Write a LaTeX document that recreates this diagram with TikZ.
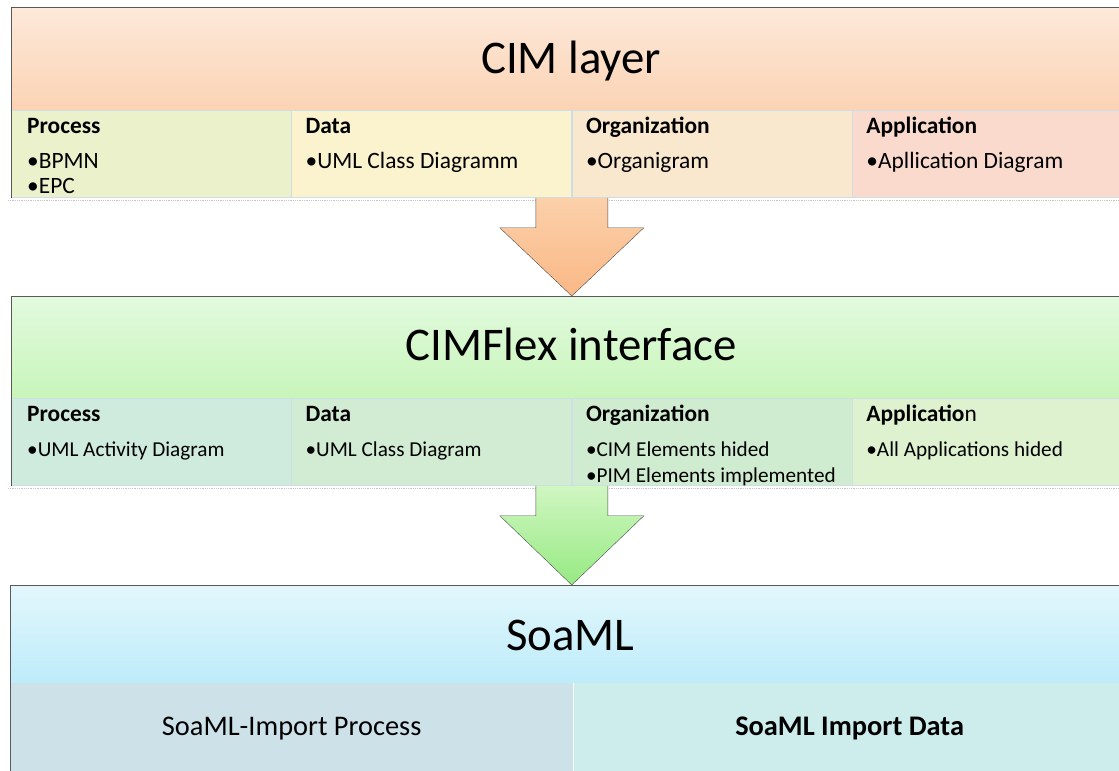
\documentclass[tikz,border=0pt]{standalone}
\usepackage{fontspec}
\setmainfont{Carlito}
\usepackage{tikz}
\usetikzlibrary{positioning, calc}

\definecolor{cimtop}{RGB}{253,233,218}
\definecolor{cimbot}{RGB}{251,211,180}
\definecolor{cimproc}{RGB}{235,241,202}
\definecolor{cimdata}{RGB}{250,243,206}
\definecolor{cimorg}{RGB}{249,232,206}
\definecolor{cimapp}{RGB}{249,218,205}
\definecolor{flextop}{RGB}{226,250,222}
\definecolor{flexbot}{RGB}{200,245,186}
\definecolor{flexproc}{RGB}{206,235,222}
\definecolor{flexdata}{RGB}{210,236,212}
\definecolor{flexorg}{RGB}{208,236,208}
\definecolor{flexapp}{RGB}{222,242,208}
\definecolor{soatop}{RGB}{226,247,252}
\definecolor{soabot}{RGB}{190,236,250}
\definecolor{soaproc}{RGB}{205,225,233}
\definecolor{soadata}{RGB}{205,236,236}
\definecolor{sepline}{RGB}{205,222,228}
\definecolor{orangetop}{RGB}{251,208,170}
\definecolor{orangebot}{RGB}{250,184,134}
\definecolor{greentop}{RGB}{208,246,194}
\definecolor{greenbot}{RGB}{150,234,130}

\begin{document}
\begin{tikzpicture}[
  x=1bp, y=1bp,
  layerhead/.style={rectangle, anchor=north west, inner sep=0pt,
    minimum width=1120bp},
  title/.style={anchor=base, inner sep=0pt, font=\fontsize{47}{50}\selectfont},
  cell/.style={rectangle, draw=sepline, inner sep=0pt,
    minimum width=280bp, minimum height=87bp},
  cellhead/.style={anchor=base west, inner sep=0pt,
    font=\fontsize{23.5}{26}\selectfont\bfseries},
  bulletline/.style={anchor=base west, inner sep=0pt,
    font=\fontsize{23.5}{26}\selectfont},
  smallbullet/.style={bulletline, font=\fontsize{21.3}{26}\selectfont},
  bottomtext/.style={anchor=base, inner sep=0pt, font=\fontsize{28.5}{32}\selectfont},
  frame/.style={draw=gray!70!black, thin},
  shadowline/.style={draw=gray!45, densely dotted, thick},
  blockarrow/.style={draw=gray!60!black, thin}
]
  \useasboundingbox (0,0) rectangle (1119,771);
  \fill[white] (0,0) rectangle (1119,771);

  % CIM layer
  \node[layerhead, minimum height=103bp, top color=cimtop, bottom color=cimbot]
    (cim) at (11,764) {};
  \node[title] (cimtitle) at ($(cim.north)+(0,-67)$) {CIM layer};
  \node[cell, fill=cimproc, below right=0pt and 0pt of cim.south west] (cimp) {};
  \node[cell, fill=cimdata, right=0pt of cimp] (cimd) {};
  \node[cell, fill=cimorg, right=0pt of cimd] (cimo) {};
  \node[cell, fill=cimapp, right=0pt of cimo] (cima) {};
  \draw[shadowline] ($(cimp.south west)+(-3,-3)$) -- ($(cima.south east)+(0,-3)$);
  \draw[frame] (cimp.south west) -- (cim.north west) -- (cim.north east);

  \node[cellhead] (cimph) at ($(cimp.north west)+(16,-23)$) {Process};
  \node[bulletline] (cimp1) at ($(cimp.north west)+(16,-58)$) {•BPMN};
  \node[bulletline] (cimp2) at ($(cimp.north west)+(16,-83)$) {•EPC};
  \node[cellhead] (cimdh) at ($(cimd.north west)+(14,-23)$) {Data};
  \node[bulletline] (cimd1) at ($(cimd.north west)+(14,-58)$) {•UML Class Diagramm};
  \node[cellhead] (cimoh) at ($(cimo.north west)+(14,-23)$) {Organization};
  \node[bulletline] (cimo1) at ($(cimo.north west)+(14,-58)$) {•Organigram};
  \node[cellhead] (cimah) at ($(cima.north west)+(14,-23)$) {Application};
  \node[bulletline] (cima1) at ($(cima.north west)+(14,-58)$) {•Apllication Diagram};

  % CIMFlex interface
  \node[layerhead, minimum height=102bp, top color=flextop, bottom color=flexbot]
    (flex) at (11,475) {};
  \node[title] (flextitle) at ($(flex.north)+(0,-65)$) {CIMFlex interface};
  \node[cell, fill=flexproc, below right=0pt and 0pt of flex.south west] (flexp) {};
  \node[cell, fill=flexdata, right=0pt of flexp] (flexd) {};
  \node[cell, fill=flexorg, right=0pt of flexd] (flexo) {};
  \node[cell, fill=flexapp, right=0pt of flexo] (flexa) {};
  \draw[shadowline] ($(flexp.south west)+(-3,-3)$) -- ($(flexa.south east)+(0,-3)$);
  \draw[frame] (flexp.south west) -- (flex.north west) -- (flex.north east);

  \node[cellhead] (flexph) at ($(flexp.north west)+(16,-23)$) {Process};
  \node[smallbullet] (flexp1) at ($(flexp.north west)+(16,-58)$) {•UML Activity Diagram};
  \node[cellhead] (flexdh) at ($(flexd.north west)+(14,-23)$) {Data};
  \node[smallbullet] (flexd1) at ($(flexd.north west)+(14,-58)$) {•UML Class Diagram};
  \node[cellhead] (flexoh) at ($(flexo.north west)+(14,-23)$) {Organization};
  \node[smallbullet] (flexo1) at ($(flexo.north west)+(14,-58)$) {•CIM Elements hided};
  \node[smallbullet] (flexo2) at ($(flexo.north west)+(14,-84)$) {•PIM Elements implemented};
  \node[cellhead] (flexah) at ($(flexa.north west)+(14,-23)$) {Applicatio\textmd{n}};
  \node[smallbullet] (flexa1) at ($(flexa.north west)+(14,-58)$) {•All Applications hided};

  % SoaML
  \node[layerhead, minimum height=97bp, top color=soatop, bottom color=soabot]
    (soa) at (10,186) {};
  \node[title] (soatitle) at ($(soa.north)+(0,-66)$) {SoaML};
  \node[cell, fill=soaproc, draw=none, minimum width=563bp, minimum height=92bp,
    below right=0pt and 0pt of soa.south west] (soap) {};
  \node[cell, fill=soadata, draw=none, minimum width=560bp, minimum height=92bp,
    right=0pt of soap] (soad) {};
  \draw[frame] (soap.south west) -- (soa.north west) -- (soa.north east);
  \node[bottomtext] (soapt) at ($(soap.north)+(0,-53)$) {SoaML-Import Process};
  \node[bottomtext, font=\fontsize{28.5}{32}\selectfont\bfseries] (soadt)
    at ($(soad.north)+(-4,-53)$) {SoaML Import Data};

  % block arrows between the layers
  \draw[blockarrow, top color=orangetop, bottom color=orangebot]
    ($(cimo.south west)+(-36,0)$) -- ++(0,-30) -- ++(-36,0)
    -- (cimo.south west |- flex.north)
    -- ($(cimo.south west)+(72,-30)$) -- ++(-36,0) -- ($(cimo.south west)+(36,0)$);
  \draw[blockarrow, top color=greentop, bottom color=greenbot]
    ($(flexo.south west)+(-36,0)$) -- ++(0,-30) -- ++(-36,0)
    -- (flexo.south west |- soa.north)
    -- ($(flexo.south west)+(72,-30)$) -- ++(-36,0) -- ($(flexo.south west)+(36,0)$);
\end{tikzpicture}
\end{document}
